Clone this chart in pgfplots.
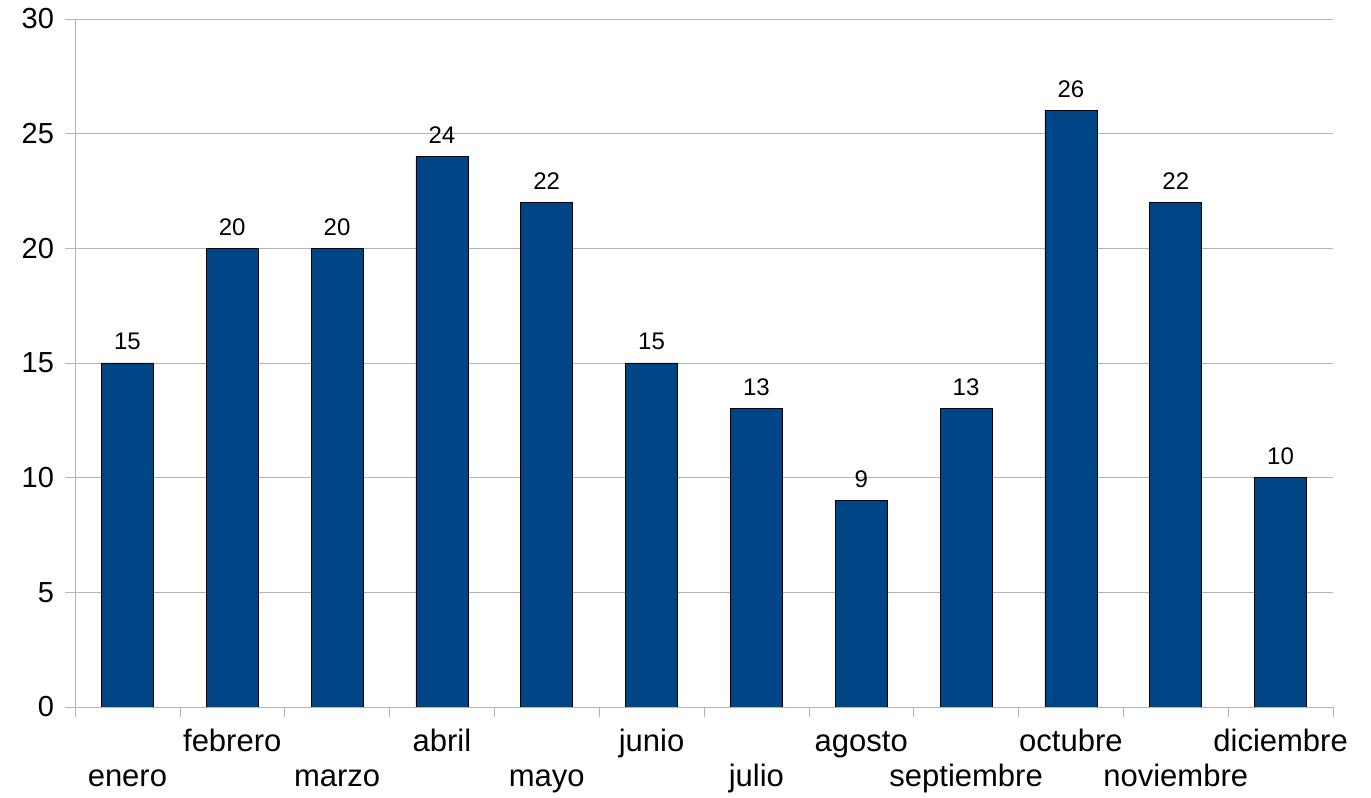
\documentclass[border=0pt]{standalone}
\usepackage{pgfplots}
\pgfplotsset{compat=1.18}
\usepackage{fontspec}
\setmainfont{Liberation Sans}
\definecolor{barblue}{RGB}{0,69,134}
\definecolor{gridgray}{RGB}{179,179,179}
\begin{document}
\begin{tikzpicture}
\begin{axis}[
  scale only axis,
  width=629pt, height=344pt,
  xmin=-0.5, xmax=11.5, ymin=0, ymax=30,
  axis x line*=bottom, axis y line*=left,
  axis line style={gridgray, -},
  ytick={0,5,...,30},
  ymajorgrids, grid style={gridgray},
  xtick={0,...,11},
  xticklabels={{\strut\\enero\strut},febrero\strut,{\strut\\marzo\strut},abril\strut,{\strut\\mayo\strut},junio\strut,{\strut\\julio\strut},agosto\strut,{\strut\\septiembre\strut},octubre\strut,{\strut\\noviembre\strut},diciembre\strut},
  minor xtick={-0.5,0.5,...,11.5},
  major x tick style={draw=none},
  minor x tick style={gridgray},
  minor tick length=5pt,
  y tick style={gridgray},
  major tick length=5pt,
  tick align=outside,
  xticklabel style={align=center, font=\fontsize{15.5}{17.5}\selectfont, inner sep=0pt, yshift=-5pt},
  yticklabel style={font=\fontsize{14.5}{17}\selectfont, xshift=-2pt},
  /pgf/number format/assume math mode=true,
  nodes near coords,
  every node near coord/.append style={font=\fontsize{12}{14}\selectfont, black, yshift=3pt},
]
\addplot[ybar, bar width=26pt, fill=barblue, draw=black, line width=0.4pt] coordinates {
(0,15) (1,20) (2,20) (3,24) (4,22) (5,15) (6,13) (7,9) (8,13) (9,26) (10,22) (11,10)
};
\end{axis}
\path (current axis.south west) ++(-37.5pt,-44pt) rectangle ++(685.5pt,397.5pt);
\end{tikzpicture}
\end{document}
